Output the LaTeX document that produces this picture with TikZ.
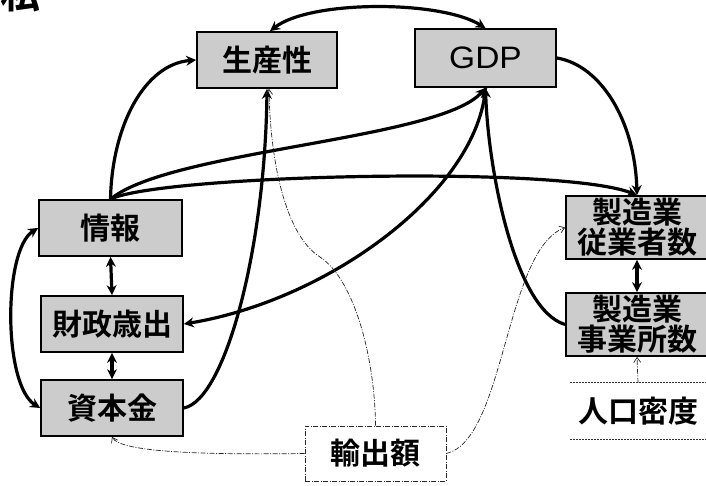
\documentclass[tikz,border=0pt]{standalone}
\usepackage{fontspec}
\usetikzlibrary{arrows.meta}
\newfontfamily\jp{Noto Sans CJK JP}[BoldFont={Noto Sans CJK JP Bold}]
\newfontfamily\lat{Liberation Sans}[FakeStretch=1.08]
\begin{document}
\begin{tikzpicture}[x=1pt,y=-1pt,
  box/.style={draw=black, line width=1.7pt, fill=black!20, minimum width=142pt,
    minimum height=56pt, inner sep=0pt, align=center,
    font=\jp\bfseries\fontsize{30}{30}\selectfont},
  tall/.style={box, minimum height=63pt},
  plainbox/.style={inner sep=0pt, minimum width=136pt, minimum height=56pt,
    font=\jp\bfseries\fontsize{30}{30}\selectfont},
  expbox/.style={draw=black!85, line width=0.7pt,
    dash pattern=on 5pt off 1.5pt on 1pt off 1.5pt, fill=white,
    minimum width=141pt, minimum height=55pt, inner sep=0pt,
    font=\jp\bfseries\fontsize{30}{30}\selectfont},
  link/.style={line width=3.2pt, -{Stealth[length=10pt,width=10pt]}},
  dlink/.style={line width=3.2pt, {Stealth[length=10pt,width=10pt]}-{Stealth[length=10pt,width=10pt]}},
  faint/.style={line width=0.7pt, black!85,
    dash pattern=on 5pt off 1.5pt on 1pt off 1.5pt,
    -{Straight Barb[length=5pt,width=7pt]}},
  rule/.style={line width=0.8pt, black!80, dash pattern=on 2pt off 1pt}
]
\useasboundingbox (0,0) rectangle (706,486);

% partial heading character
\node[font=\jp\bfseries\fontsize{40}{40}\selectfont, anchor=base, inner sep=0pt] (head) at (20,9) {私};

% nodes
\node[box, minimum width=140pt] (prod) at (267,60) {生産性};
\node[box, minimum width=141pt, minimum height=58pt, font=\lat\fontsize{31}{31}\selectfont] (gdp) at (485.5,58) {GDP};
\node[box, minimum width=143pt] (info) at (110.5,228) {情報};
\node[box] (fin) at (112,324) {財政歳出};
\node[box] (cap) at (112,408) {資本金};
\node[tall] (emp) at (637,227.5) {製造業\\従業者数};
\node[tall] (est) at (637,324.5) {製造業\\事業所数};
\node[plainbox] (pop) at (638,411) {人口密度};
\node[expbox] (exp) at (375.5,453.5) {輸出額};

\draw[rule] (pop.north west) -- (pop.north east);
\draw[rule] (pop.south west) -- (pop.south east);

% thick connectors
\draw[dlink] ([xshift=3pt]prod.north) .. controls (310,0) and (440,0) .. (gdp.north);
\draw[link] (info.north) .. controls (112,125) and (145,64) .. (prod.west);
\draw[link] (info.north) .. controls (170,150) and (440,140) .. (gdp.south);
\draw[link] (info.north) .. controls (160,175) and (560,165) .. (emp.north);
\draw[link] (gdp.east) .. controls (600,65) and (635,120) .. (emp.north);
\draw[link] (cap.east) .. controls (225,400) and (265,250) .. (prod.south);
\draw[link] (gdp.south) .. controls (478,190) and (330,300) .. (fin.east);
\draw[link] (est.west) .. controls (515,310) and (488,170) .. (gdp.south);
\draw[dlink] (info.west) .. controls (3,250) and (3,385) .. (cap.west);
\draw[dlink] (info.south) -- (fin.north);
\draw[dlink] (fin.south) -- (cap.north);
\draw[dlink] (emp.south) -- (est.north);

% thin dashed connectors
\draw[faint] (pop.north) -- (est.south);
\draw[faint] (exp.west) .. controls (200,455) and (120,452) .. (cap.south);
\draw[faint] (exp.north) .. controls (375,360) and (355,280) .. (320,257)
  .. controls (285,235) and (270,160) .. ([xshift=2pt]prod.south);
\draw[faint] (exp.east) .. controls (505,440) and (505,250) .. (emp.west);
\end{tikzpicture}
\end{document}
